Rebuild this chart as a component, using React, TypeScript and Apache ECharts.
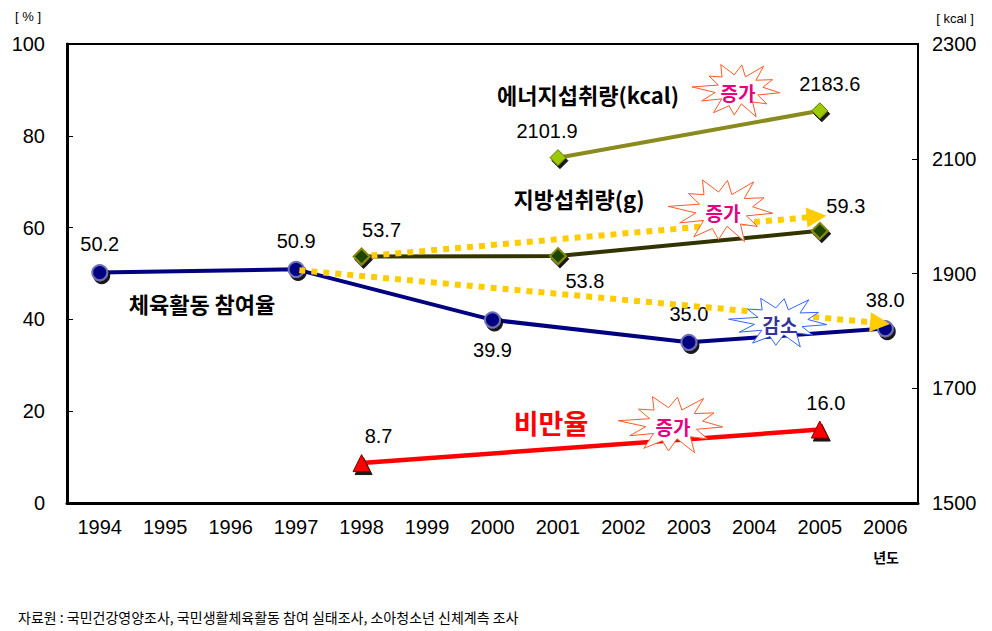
import React, { useEffect, useRef } from "react";
import * as echarts from "echarts";

const years = ["1994", "1995", "1996", "1997", "1998", "1999", "2000", "2001", "2002", "2003", "2004", "2005", "2006"];
const participation = [50.2, null, null, 50.9, null, null, 39.9, null, null, 35.0, null, null, 38.0];
const fatIntake = [null, null, null, null, 53.7, null, null, 53.8, null, null, null, 59.3, null];
const energyIntake = [null, null, null, null, null, null, null, 2101.9, null, null, null, 2183.6, null];
const obesity = [null, null, null, null, 8.7, null, null, null, null, null, null, 16.0, null];
const leftTicks = { min: 0, max: 100, interval: 20 };
const energyBase = 1500;
const rightTicks = { min: 1500, max: 2300, interval: 200 };
// annotation arrows [x index, y value] in left-axis units
const arrowFat = [[4.15, 53.9], [10.95, 62.4]];
const arrowPart = [[3.05, 50.7], [11.92, 39.2]];

const NUM_FONT = "'Liberation Sans', Arial, sans-serif";
const KR_FONT = "'Noto Sans CJK KR', sans-serif";

function starPoints(cx: number, cy: number, rx: number, ry: number) {
  const f = [1, 0.5, 0.85, 0.55, 1.05, 0.5, 0.9, 0.6, 1, 0.5, 0.95, 0.55, 1.1, 0.5, 0.85, 0.6, 1, 0.55, 0.9, 0.5, 1.05, 0.55, 0.9, 0.6];
  const pts: number[][] = [];
  for (let i = 0; i < f.length; i++) {
    const a = (i / f.length) * Math.PI * 2 + 0.1;
    pts.push([cx + Math.cos(a) * rx * f[i], cy + Math.sin(a) * ry * f[i]]);
  }
  return pts;
}

function star(cx: number, cy: number, rx: number, ry: number, stroke: string, text: string, color: string) {
  return [
    {
      type: "polygon",
      shape: { points: starPoints(cx, cy, rx, ry) },
      style: { fill: "#ffffff", stroke, lineWidth: 1 },
      z: 10,
    },
    {
      type: "text",
      x: cx,
      y: cy + 2,
      style: { text, fill: color, font: `bold 19px ${KR_FONT}`, align: "center", verticalAlign: "middle" },
      z: 11,
    },
  ];
}

const numLabel = (extra: any) => ({
  show: true,
  fontFamily: NUM_FONT,
  fontSize: 20,
  color: "#000",
  ...extra,
});

export default function App() {
  const ref = useRef<HTMLDivElement>(null);
  useEffect(() => {
    if (!ref.current) return;
    document.body.style.margin = "0";
    const chart = echarts.init(ref.current, null, { renderer: "svg" });
    const shadow = { shadowColor: "rgba(0,0,0,0.9)", shadowOffsetX: 2, shadowOffsetY: 3, shadowBlur: 0 };
    const fmt1 = (p: any) => Number(Array.isArray(p.value) ? p.value[1] : p.value).toFixed(1);

    const partData = participation.map((v, i) => {
      if (v == null) return null;
      let label: any = numLabel({ position: "top", distance: 10, formatter: fmt1 });
      if (i === 6) label = numLabel({ position: "bottom", distance: 12, formatter: fmt1 });
      return { value: v, label };
    });
    const fatData = fatIntake.map((v, i) => {
      if (v == null) return null;
      let label: any = numLabel({ position: "top", distance: 8, offset: [20, 0], formatter: fmt1 });
      if (i === 7) label = numLabel({ position: "bottom", distance: 6, offset: [27, 0], formatter: fmt1 });
      if (i === 11) label = numLabel({ position: "top", distance: 6, offset: [26, 0], formatter: fmt1 });
      return { value: v, label };
    });
    const energyData = energyIntake.map((v, i) => {
      if (v == null) return null;
      let label: any = numLabel({ position: "top", distance: 8, offset: [-11, 0], formatter: () => v.toFixed(1) });
      if (i === 11) label = numLabel({ position: "top", distance: 8, offset: [10, 0], formatter: () => v.toFixed(1) });
      return { value: v - energyBase, label };
    });
    const obData = obesity.map((v, i) => {
      if (v == null) return null;
      let label: any = numLabel({ position: "top", distance: 8, offset: [17, 0], formatter: fmt1 });
      if (i === 11) label = numLabel({ position: "top", distance: 8, offset: [6, 0], formatter: fmt1 });
      return { value: v, label };
    });

    const arrowStyle = { color: "#ffcc00", width: 6, type: [6, 6] as any };

    chart.setOption({
      animation: false,
      grid: { left: 67, right: 74, top: 44, bottom: 128, show: true, borderColor: "#000", borderWidth: 2 },
      xAxis: [
        {
          type: "category",
          data: years,
          boundaryGap: true,
          axisLine: { onZero: false, lineStyle: { color: "#000", width: 3 } },
          axisTick: { inside: true, length: 6, lineStyle: { color: "#000" } },
          axisLabel: { fontFamily: NUM_FONT, fontSize: 20, color: "#000", margin: 14 },
          splitLine: { show: false },
        },
        { type: "value", min: -0.5, max: 12.5, show: false },
      ],
      yAxis: [
        {
          type: "value",
          min: leftTicks.min,
          max: leftTicks.max,
          interval: leftTicks.interval,
          axisLine: { show: true, onZero: false, lineStyle: { color: "#000", width: 3 } },
          axisTick: { show: true, inside: true, length: 6, lineStyle: { color: "#000" } },
          axisLabel: { fontFamily: NUM_FONT, fontSize: 20, color: "#000", margin: 22 },
          splitLine: { show: false },
        },
        {
          type: "value",
          min: rightTicks.min - energyBase,
          max: rightTicks.max - energyBase,
          interval: rightTicks.interval,
          position: "right",
          axisLine: { show: true, onZero: false, lineStyle: { color: "#000", width: 2 } },
          axisTick: { show: true, inside: true, length: 6, lineStyle: { color: "#000" } },
          axisLabel: {
            fontFamily: NUM_FONT,
            fontSize: 20,
            color: "#000",
            margin: 14,
            formatter: (v: number) => String(v + energyBase),
          },
          splitLine: { show: false },
        },
      ],
      series: [
        {
          name: "arrows",
          type: "line",
          xAxisIndex: 1,
          yAxisIndex: 0,
          data: [[arrowPart[0][0], arrowPart[0][1]]],
          symbol: "none",
          lineStyle: { opacity: 0 },
          silent: true,
          z: 3,
          markLine: {
            silent: true,
            symbol: ["none", "triangle"],
            symbolSize: [20, 20],
            label: { show: false },
            lineStyle: arrowStyle,
            data: [
              [{ coord: arrowFat[0] }, { coord: arrowFat[1] }],
              [{ coord: arrowPart[0] }, { coord: arrowPart[1] }],
            ],
          },
        },
        {
          name: "체육활동 참여율",
          type: "line",
          data: partData,
          connectNulls: true,
          symbol: "circle",
          symbolSize: 15,
          lineStyle: { color: "#000080", width: 4 },
          itemStyle: { color: "#000080", borderColor: "#7070b8", borderWidth: 2, ...shadow },
          z: 4,
        },
        {
          name: "지방섭취량(g)",
          type: "line",
          data: fatData,
          connectNulls: true,
          symbol: "diamond",
          symbolSize: 16,
          lineStyle: { color: "#333300", width: 4 },
          itemStyle: { color: "#1c4400", borderColor: "#8a8a10", borderWidth: 2, ...shadow },
          z: 4,
        },
        {
          name: "에너지섭취량(kcal)",
          type: "line",
          yAxisIndex: 1,
          data: energyData,
          connectNulls: true,
          symbol: "diamond",
          symbolSize: 16,
          lineStyle: { color: "#8a8a1e", width: 4 },
          itemStyle: { color: "#99cc00", borderColor: "#6b6b00", borderWidth: 1, ...shadow },
          z: 4,
        },
        {
          name: "비만율",
          type: "line",
          data: obData,
          connectNulls: true,
          symbol: "triangle",
          symbolSize: 17,
          lineStyle: { color: "#ff0000", width: 4.5 },
          itemStyle: { color: "#ff0000", borderColor: "#800000", borderWidth: 1, ...shadow },
          z: 4,
        },
      ],
      graphic: [
        { type: "text", x: 28, y: 16, style: { text: "[ % ]", font: `13px ${NUM_FONT}`, fill: "#000", align: "center", verticalAlign: "middle" } },
        { type: "text", x: 955, y: 18, style: { text: "[ kcal ]", font: `13px ${NUM_FONT}`, fill: "#000", align: "center", verticalAlign: "middle" } },
        { type: "text", x: 886, y: 557, style: { text: "년도", font: `bold 14px ${KR_FONT}`, fill: "#000", align: "center", verticalAlign: "middle" } },
        { type: "text", x: 18, y: 617, style: { text: "자료원 : 국민건강영양조사, 국민생활체육활동 참여 실태조사, 소아청소년 신체계측 조사", font: `14px ${KR_FONT}`, fill: "#000", align: "left", verticalAlign: "middle" } },
        { type: "text", x: 588, y: 94, style: { text: "에너지섭취량(kcal)", font: `bold 22px ${KR_FONT}`, fill: "#000", align: "center", verticalAlign: "middle" }, z: 12 },
        { type: "text", x: 579, y: 198, style: { text: "지방섭취량(g)", font: `bold 22px ${KR_FONT}`, fill: "#000", align: "center", verticalAlign: "middle" }, z: 12 },
        { type: "text", x: 202, y: 303, style: { text: "체육활동 참여율", font: `bold 22px ${KR_FONT}`, fill: "#000", align: "center", verticalAlign: "middle" }, z: 12 },
        { type: "text", x: 551, y: 422, style: { text: "비만율", font: `bold 27px ${KR_FONT}`, fill: "#ff0000", align: "center", verticalAlign: "middle" }, z: 12 },
        ...star(738, 90, 42, 28, "#ff5a28", "증가", "#e4007f"),
        ...star(723, 210, 50, 33, "#ff5a28", "증가", "#e4007f"),
        ...star(780, 322, 47, 26, "#3366ff", "감소", "#333399"),
        ...star(673, 424, 50, 30, "#ff5a28", "증가", "#e4007f"),
      ],
    });
    return () => chart.dispose();
  }, []);
  return <div ref={ref} style={{ position: "fixed", left: 0, top: 0, width: 992, height: 631, background: "#fff" }} />;
}
